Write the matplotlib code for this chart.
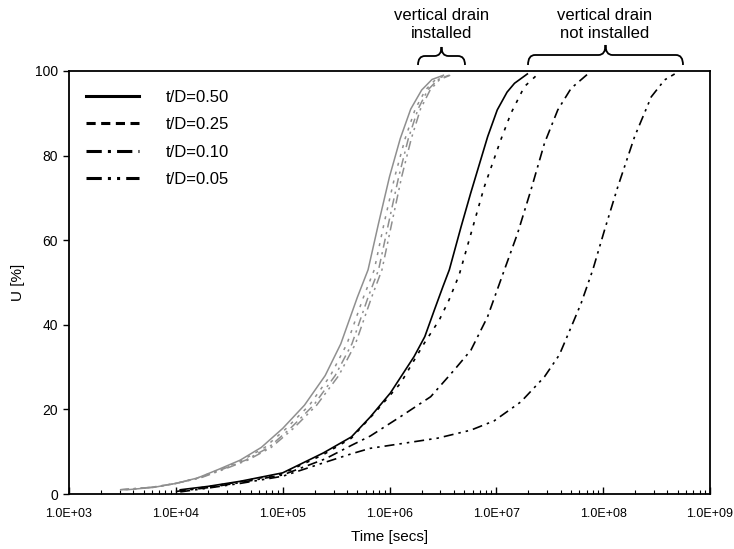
import matplotlib
matplotlib.use("Agg")
import matplotlib.pyplot as plt
from matplotlib.path import Path
from matplotlib.patches import PathPatch
from matplotlib.lines import Line2D
from matplotlib.ticker import LogLocator, FixedLocator, NullFormatter

plt.rcParams['font.family'] = ['Liberation Sans', 'DejaVu Sans']

# ---------------- data ----------------
labels = ["t/D=0.50", "t/D=0.25", "t/D=0.10", "t/D=0.05"]

# vertical drain NOT installed (black)
t_050 = [1.1e4, 2.0e4, 4.0e4, 1.0e5, 2.4e5, 4.4e5, 6.6e5, 1.02e6, 1.7e6, 2.14e6, 2.63e6,
         3.16e6, 3.63e6, 4.68e6, 5.75e6, 8.3e6, 1.02e7, 1.26e7, 1.48e7, 1.95e7]
u_050 = [1.0, 1.8, 3.0, 5.0, 9.7, 13.5, 18.2, 23.9, 32.5, 37.2, 43.5,
         49.0, 53.0, 63.2, 71.1, 84.5, 90.8, 95.0, 97.1, 99.3]

t_025 = [1.1e4, 2.0e4, 4.0e4, 1.0e5, 2.4e5, 4.4e5, 7.7e5, 1.27e6, 2.11e6, 2.92e6, 3.61e6,
         4.49e6, 5.78e6, 7.71e6, 1.1e7, 1.37e7, 1.83e7, 2.34e7]
u_025 = [0.8, 1.7, 2.9, 4.8, 9.3, 13.2, 19.9, 26.2, 35.6, 41.1, 45.9,
         51.8, 61.5, 72.6, 83.7, 90.0, 96.3, 98.8]

t_010 = [1.0e4, 2.0e4, 4.0e4, 1.0e5, 2.5e5, 4.4e5, 6.6e5, 1.27e6, 2.43e6, 4.03e6, 5.78e6,
         8.28e6, 9.91e6, 1.19e7, 1.58e7, 2.11e7, 2.82e7, 3.76e7, 5.01e7, 7.18e7]
u_010 = [0.6, 1.5, 2.7, 4.5, 8.3, 11.5, 13.7, 18.3, 23.0, 29.3, 34.0,
         41.9, 47.4, 53.0, 61.6, 71.9, 82.9, 90.8, 95.9, 99.3]

t_005 = [1.1e4, 2.0e4, 4.0e4, 1.0e5, 2.5e5, 4.4e5, 6.6e5, 1.37e6, 2.82e6, 5.78e6, 9.55e6,
         1.7e7, 2.82e7, 3.89e7, 5.2e7, 6.22e7, 8.0e7, 1.03e8, 1.37e8, 1.97e8, 2.82e8,
         3.76e8, 4.67e8]
u_005 = [0.5, 1.4, 2.5, 4.2, 7.5, 9.5, 10.8, 12.0, 13.2, 15.1, 17.3,
         21.8, 27.7, 32.9, 40.4, 45.1, 53.0, 62.4, 72.6, 84.5, 93.9,
         97.9, 99.3]

# vertical drain installed (gray)
u_gray = [1.0, 1.6, 2.5, 3.8, 5.8, 8.0, 11.0, 15.5, 21.0, 28.0, 35.5,
          46.5, 53.0, 64.0, 75.0, 84.0, 91.0, 95.5, 98.0, 99.0]
tg_050 = [3.5e3, 6.3e3, 1.0e4, 1.6e4, 2.5e4, 4.0e4, 6.3e4, 1.0e5, 1.6e5, 2.5e5, 3.5e5,
          5.0e5, 6.3e5, 7.9e5, 1.0e6, 1.26e6, 1.58e6, 2.0e6, 2.5e6, 3.2e6]
tg_025 = [3.3e3, 6.3e3, 1.0e4, 1.6e4, 2.6e4, 4.2e4, 6.8e4, 1.08e5, 1.78e5, 2.8e5, 4.0e5,
          5.7e5, 7.2e5, 8.9e5, 1.12e6, 1.4e6, 1.74e6, 2.17e6, 2.7e6, 3.4e6]
tg_010 = [3.0e3, 6.0e3, 1.0e4, 1.65e4, 2.7e4, 4.5e4, 7.4e4, 1.18e5, 1.95e5, 3.1e5, 4.45e5,
          6.3e5, 7.9e5, 9.8e5, 1.22e6, 1.5e6, 1.85e6, 2.28e6, 2.85e6, 3.6e6]
tg_005 = [3.0e3, 6.0e3, 1.0e4, 1.7e4, 2.8e4, 4.7e4, 7.8e4, 1.26e5, 2.08e5, 3.35e5, 4.8e5,
          6.8e5, 8.5e5, 1.05e6, 1.3e6, 1.6e6, 1.95e6, 2.4e6, 2.95e6, 3.7e6]

x_ticks = [1e3, 1e4, 1e5, 1e6, 1e7, 1e8, 1e9]
x_tick_labels = ["1.0E+03", "1.0E+04", "1.0E+05", "1.0E+06", "1.0E+07", "1.0E+08", "1.0E+09"]
y_ticks = [0, 20, 40, 60, 80, 100]

# ---------------- figure ----------------
W, H = 734, 549
fig = plt.figure(figsize=(W / 100, H / 100), dpi=100)
ax = fig.add_axes([69 / W, 55 / H, 641 / W, 423 / H])

styles = ['-', (0, (2, 4)), (0, (6, 3, 1.5, 3)), (0, (6, 3, 1.5, 3, 1.5, 3))]
black_t = [t_050, t_025, t_010, t_005]
black_u = [u_050, u_025, u_010, u_005]
gray_t = [tg_050, tg_025, tg_010, tg_005]

gray = '#8f8f8f'
for tt, ls in zip(gray_t, styles):
    ax.plot(tt, u_gray, color=gray, lw=1.1, ls=ls)
for tt, uu, ls in zip(black_t, black_u, styles):
    ax.plot(tt, uu, color='black', lw=1.2, ls=ls)

ax.set_xscale('log')
ax.set_xlim(1e3, 1e9)
ax.set_ylim(0, 100)
ax.xaxis.set_major_locator(FixedLocator(x_ticks))
ax.set_xticklabels(x_tick_labels)
ax.xaxis.set_minor_locator(LogLocator(base=10, subs=range(2, 10)))
ax.xaxis.set_minor_formatter(NullFormatter())
ax.set_yticks(y_ticks)
ax.tick_params(axis='x', which='major', direction='in', length=5, width=1, labelsize=9, pad=10)
ax.tick_params(axis='x', which='minor', direction='in', length=3, width=0.8)
ax.tick_params(axis='y', which='major', direction='out', length=4, width=1, labelsize=10, pad=4)
for s in ax.spines.values():
    s.set_linewidth(1.3)

ax.set_xlabel("Time [secs]", fontsize=11, labelpad=7)
ax.set_ylabel("U [%]", fontsize=11, labelpad=7)

# legend
handles = [Line2D([], [], color='black', lw=2.2, ls=ls) for ls in
           ['-', (0, (3, 1.8)), (0, (5, 2, 1, 2)), (0, (5, 2, 1, 2, 1, 2))]]
ax.legend(handles, labels, loc='upper left', frameon=False, fontsize=12,
          handlelength=3.2, handletextpad=1.6, labelspacing=0.75,
          bbox_to_anchor=(0.0, 0.995), borderaxespad=0.6)

# braces and annotations (pixel coordinates, y from top)
def brace(x0, x1, y_end, y_mid, y_tip, r=7):
    xm = (x0 + x1) / 2
    pts = [(x0, y_end), (x0, y_mid), (x0 + r, y_mid), (xm - r, y_mid), (xm, y_mid), (xm, y_tip),
           (xm, y_mid), (xm + r, y_mid), (x1 - r, y_mid), (x1, y_mid), (x1, y_end)]
    codes = [Path.MOVETO, Path.CURVE3, Path.CURVE3, Path.LINETO, Path.CURVE3, Path.CURVE3,
             Path.CURVE3, Path.CURVE3, Path.LINETO, Path.CURVE3, Path.CURVE3]
    pts = [(x / W, 1 - y / H) for x, y in pts]
    fig.patches.append(PathPatch(Path(pts, codes), transform=fig.transFigure,
                                 fill=False, lw=1.3, color='black'))

brace(418, 465, 65, 56, 47)
brace(528, 683, 65, 55, 45)
fig.text(442 / W, 1 - 24 / H, "vertical drain\ninstalled", ha='center', va='center',
         fontsize=12, linespacing=1.25)
fig.text(605 / W, 1 - 24 / H, "vertical drain\nnot installed", ha='center', va='center',
         fontsize=12, linespacing=1.25)

fig.savefig("out.png", dpi=100)
